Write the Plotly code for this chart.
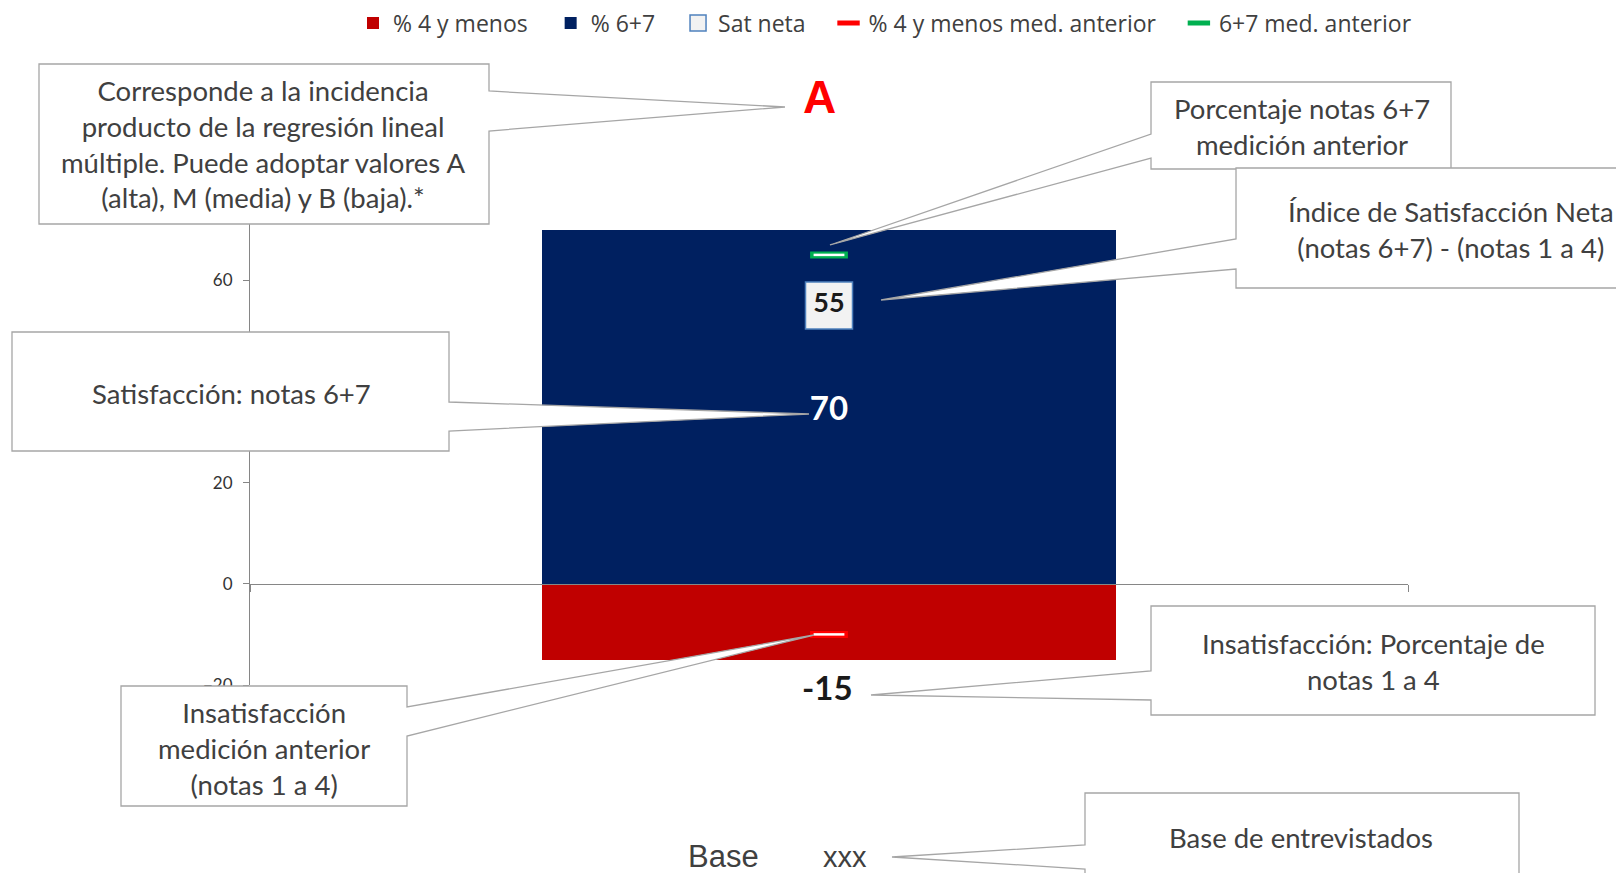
import plotly.graph_objects as go

# ---- data -----------------------------------------------------------------
categories = ["xxx"]
pct_4_or_less = [-15]          # % 4 y menos
pct_6_7 = [70]                 # % 6+7
sat_neta = [55]                # Sat neta
pct_4_or_less_prev = [-10]     # % 4 y menos med. anterior
pct_6_7_prev = [65]            # 6+7 med. anterior
incidence = ["A"]
y_ticks = [-20, 0, 20, 40, 60, 80]

# ---- page geometry (pixels) -------------------------------------------------
W, H = 1616, 873
L, R, T, B = 250, 1408, 179, 685          # plot area


def px(x):
    return (x - L) / (R - L)


def py(y):
    return (B - y) / (B - T)


NAVY = "#002060"
RED = "#C00000"
BRIGHT_RED = "#FF0000"
GREEN = "#00B050"
TEXT = "#404040"
BORDER = "#A6A6A6"
AXIS = "#868686"
LABEL_FONT = "Lato"
PAD = "\u00a0\u00a0\u00a0"      # extra room between legend entries

xs = list(range(len(categories)))
bar_w = 0.495

fig = go.Figure()

fig.add_bar(
    x=xs, y=pct_4_or_less, name="% 4 y menos" + PAD, width=bar_w,
    marker=dict(color=RED, line=dict(width=0)),
    hoverinfo="skip",
)
fig.add_bar(
    x=xs, y=pct_6_7, name="% 6+7" + PAD, width=bar_w,
    marker=dict(color=NAVY, line=dict(width=0)),
    text=[str(v) for v in pct_6_7], textposition="inside",
    insidetextanchor="middle", textangle=0,
    insidetextfont=dict(family=LABEL_FONT, size=33, color="white", weight="bold"),
    hoverinfo="skip",
)

# net satisfaction: boxed marker with its value
fig.add_scatter(
    x=xs, y=sat_neta, name="Sat neta" + PAD, mode="markers",
    marker=dict(symbol="square", size=47, color="#F2F2F2",
                line=dict(color="#4F81BD", width=1.5)),
    cliponaxis=False, hoverinfo="skip",
)
fig.add_scatter(
    x=xs, y=sat_neta, mode="text", showlegend=False,
    text=[str(v) for v in sat_neta], textposition="middle center",
    textfont=dict(family=LABEL_FONT, size=27, color="#1A1A1A", weight="bold"),
    cliponaxis=False, hoverinfo="skip",
)

# previous-measurement dashes (coloured outline, white core)
for vals, name, col in [(pct_4_or_less_prev, "% 4 y menos med. anterior" + PAD, BRIGHT_RED),
                        (pct_6_7_prev, "6+7 med. anterior", GREEN)]:
    fig.add_scatter(
        x=xs, y=vals, name=name, mode="markers",
        marker=dict(symbol="line-ew", size=27, color=col,
                    line=dict(color=col, width=7)),
        cliponaxis=False, hoverinfo="skip",
    )
    fig.add_scatter(
        x=xs, y=vals, mode="markers", showlegend=False,
        marker=dict(symbol="line-ew", size=22, color="white",
                    line=dict(color="white", width=2.5)),
        cliponaxis=False, hoverinfo="skip",
    )

# ---- callout boxes ----------------------------------------------------------
callouts = [
    dict(box=(39, 64, 489, 224), side="right", a=91, b=131, tip=(785, 107)),
    dict(box=(12, 332, 449, 451), side="right", a=402, b=431, tip=(809, 414)),
    dict(box=(121, 686, 407, 806), side="right", a=707, b=736, tip=(814, 635)),
    dict(box=(1151, 82, 1451, 169), side="left", a=134, b=158, tip=(830, 245)),
    dict(box=(1236, 168, 1690, 288), side="left", a=239, b=269, tip=(881, 300)),
    dict(box=(1151, 606, 1595, 715), side="left", a=671, b=700, tip=(871, 695)),
    dict(box=(1085, 793, 1519, 910), side="left", a=845, b=869, tip=(892, 857)),
]


def callout_path(box, side, a, b, tip):
    x0, y0, x1, y1 = box
    tx, ty = tip
    if side == "right":
        pts = [(x0, y0), (x1, y0), (x1, a), (tx, ty), (x1, b), (x1, y1), (x0, y1)]
    else:
        pts = [(x0, y0), (x1, y0), (x1, y1), (x0, y1), (x0, b), (tx, ty), (x0, a)]
    return "M" + " L".join(f"{px(x):.5f},{py(y):.5f}" for x, y in pts) + " Z"


shapes = [
    dict(type="path", xref="paper", yref="paper", layer="above",
         path=callout_path(**c), fillcolor="white",
         line=dict(color=BORDER, width=1.3))
    for c in callouts
]

callout_texts = [
    ("Corresponde a la incidencia<br>producto de la regresión lineal<br>"
     "múltiple. Puede adoptar valores A<br>(alta), M (media) y B (baja).*", 263, 144),
    ("Satisfacción: notas 6+7", 231, 393),
    ("Insatisfacción<br>medición anterior<br>(notas 1 a 4)", 264, 748),
    ("Porcentaje notas 6+7<br>medición anterior", 1302, 127),
    ("Índice de Satisfacción Neta<br>(notas 6+7) - (notas 1 a 4)", 1451, 229),
    ("Insatisfacción: Porcentaje de<br>notas 1 a 4", 1373, 661),
    ("Base de entrevistados", 1301, 837),
]

annotations = [
    dict(text=t, x=px(cx), y=py(cy), xref="paper", yref="paper",
         xanchor="center", yanchor="middle", showarrow=False, align="center",
         font=dict(family=LABEL_FONT, size=27.5, color=TEXT))
    for t, cx, cy in callout_texts
]

# value label under the negative bar
annotations.append(
    dict(text=str(pct_4_or_less[0]), x=xs[0], y=pct_4_or_less[0],
         xref="x", yref="y", xanchor="center", yanchor="middle",
         yshift=-27, xshift=-2, showarrow=False,
         font=dict(family=LABEL_FONT, size=33, color="#1A1A1A", weight="bold"))
)

annotations += [
    dict(text=incidence[0], x=px(819), y=py(97), xref="paper", yref="paper",
         xanchor="center", yanchor="middle", showarrow=False,
         font=dict(family="Liberation Sans", size=46, color=BRIGHT_RED, weight="bold")),
    dict(text="Base", x=px(723), y=py(856), xref="paper", yref="paper",
         xanchor="center", yanchor="middle", showarrow=False,
         font=dict(family="Liberation Sans", size=31, color=TEXT)),
    dict(text=categories[0], x=px(845), y=py(857), xref="paper", yref="paper",
         xanchor="center", yanchor="middle", showarrow=False,
         font=dict(family="Liberation Sans", size=29, color=TEXT)),
]

fig.update_layout(
    width=W, height=H, autosize=False,
    margin=dict(l=L, r=W - R, t=T, b=H - B, pad=0, autoexpand=False),
    paper_bgcolor="white", plot_bgcolor="white",
    barmode="relative", bargap=0,
    showlegend=True,
    legend=dict(orientation="h", x=px(885), xanchor="center",
                y=py(23), yanchor="middle",
                font=dict(family="Open Sans", size=23, color=TEXT),
                bgcolor="rgba(0,0,0,0)", itemsizing="trace",
                traceorder="normal"),
    xaxis=dict(range=[-0.5, 0.5], showgrid=False, zeroline=False,
               showline=True, linecolor=AXIS, linewidth=1,
               anchor="free", position=(0 - y_ticks[0]) / (y_ticks[-1] - y_ticks[0]),
               ticks="outside", tickvals=[-0.5, 0.5], ticklen=7,
               tickcolor=AXIS, showticklabels=False, fixedrange=True),
    yaxis=dict(range=[y_ticks[0], y_ticks[-1]], tickvals=y_ticks,
               showgrid=False, zeroline=False, showline=True,
               linecolor=AXIS, linewidth=1, ticks="outside", ticklen=6,
               tickcolor=AXIS, ticklabelstandoff=7,
               tickfont=dict(family=LABEL_FONT, size=17, color="#333333"),
               fixedrange=True),
    shapes=shapes,
    annotations=annotations,
    hovermode=False,
)

fig.write_html("out.html", config={"displayModeBar": False})
